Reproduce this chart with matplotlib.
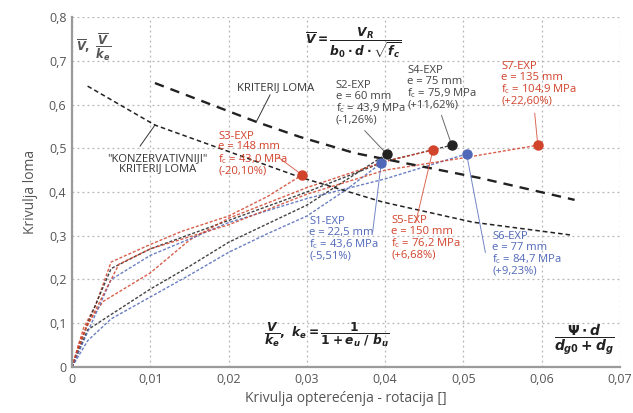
import matplotlib
matplotlib.use('Agg')
import matplotlib.pyplot as plt
import numpy as np
from matplotlib import rc

rc('font', family=['Open Sans', 'DejaVu Sans'])
rc('mathtext', fontset='custom', it='DejaVu Sans:italic:bold', rm='DejaVu Sans:bold', bf='DejaVu Sans:bold')

RED = '#d2432c'
BLUE = '#5068b8'
BLACK = '#222222'
GRAY = '#555555'

# load-rotation curves (rotation, normalised shear)
s1_x = [0, 0.002, 0.005, 0.01, 0.015, 0.02, 0.025, 0.03, 0.035, 0.0395]
s1_y = [0, 0.06, 0.11, 0.16, 0.21, 0.262, 0.305, 0.345, 0.405, 0.466]
s2_x = [0, 0.002, 0.005, 0.01, 0.015, 0.02, 0.03, 0.0402]
s2_y = [0, 0.085, 0.12, 0.178, 0.23, 0.285, 0.37, 0.487]
s3_x = [0, 0.0015, 0.003, 0.005, 0.01, 0.014, 0.02, 0.025, 0.0294]
s3_y = [0, 0.09, 0.14, 0.24, 0.28, 0.31, 0.345, 0.39, 0.439]
s4_x = [0, 0.002, 0.005, 0.01, 0.02, 0.03, 0.04, 0.0485]
s4_y = [0, 0.1, 0.225, 0.27, 0.335, 0.4, 0.47, 0.507]
s5_x = [0, 0.002, 0.004, 0.01, 0.015, 0.02, 0.03, 0.04, 0.0461]
s5_y = [0, 0.1, 0.15, 0.215, 0.29, 0.34, 0.41, 0.47, 0.496]
s6_x = [0, 0.002, 0.005, 0.01, 0.02, 0.03, 0.04, 0.0504]
s6_y = [0, 0.08, 0.2, 0.255, 0.33, 0.385, 0.43, 0.487]
s7_x = [0, 0.001, 0.003, 0.006, 0.01, 0.02, 0.03, 0.04, 0.05, 0.0595]
s7_y = [0, 0.06, 0.13, 0.235, 0.27, 0.325, 0.395, 0.45, 0.478, 0.507]

# failure criteria
krit_x = [0.0106, 0.0236, 0.0291, 0.0361, 0.0521, 0.0642]
krit_y = [0.649, 0.56, 0.526, 0.489, 0.432, 0.382]
konz_x = [0.002, 0.0106, 0.0291, 0.0397, 0.0512, 0.0636]
konz_y = [0.642, 0.553, 0.434, 0.377, 0.331, 0.302]

names = ['S1-EXP', 'S2-EXP', 'S3-EXP', 'S4-EXP', 'S5-EXP', 'S6-EXP', 'S7-EXP']
ecc = ['22,5', '60', '148', '75', '150', '77', '135']
fc = ['43,6', '43,9', '43,0', '75,9', '76,2', '84,7', '104,9']
diff = ['-5,51%', '-1,26%', '-20,10%', '+11,62%', '+6,68%', '+9,23%', '+22,60%']

series = [(s1_x, s1_y, BLUE), (s2_x, s2_y, BLACK), (s3_x, s3_y, RED), (s4_x, s4_y, BLACK),
          (s5_x, s5_y, RED), (s6_x, s6_y, BLUE), (s7_x, s7_y, RED)]
txt_col = [BLUE, '#444444', RED, '#444444', RED, BLUE, RED]
# label position (data coords, top-left) and end of leader line
lab_pos = [(0.0303, 0.345), (0.0337, 0.655), (0.0187, 0.54), (0.0428, 0.69), (0.0408, 0.347), (0.0537, 0.311), (0.0548, 0.699)]
lead_end = [(0.0384, 0.308), (0.0374, 0.54), (0.0263, 0.48), (0.0472, 0.575), (0.0439, 0.33), (0.0528, 0.262), (0.0591, 0.58)]

fig, ax = plt.subplots(figsize=(6.33, 4.13), dpi=100)
fig.subplots_adjust(left=0.1137, right=0.9795, bottom=0.1114, top=0.9588)

for (x, y, c) in series:
    ax.plot(x, y, color=c, lw=1.0, ls=(0, (2.2, 1.3)), alpha=0.85)
for (x, y, c) in series:
    ax.plot(x[-1], y[-1], 'o', color=c, ms=6.5, zorder=5)

ax.plot(krit_x, krit_y, color=BLACK, lw=1.7, ls=(0, (4, 3)))
ax.plot(konz_x, konz_y, color=BLACK, lw=1.1, ls=(0, (3, 2)))

for i in range(len(names)):
    x0, y0 = lab_pos[i]
    s = names[i] + '\ne = ' + ecc[i] + ' mm\nf$_\\mathregular{c}$ = ' + fc[i] + ' MPa\n(' + diff[i] + ')'
    ax.text(x0, y0, s, color=txt_col[i], fontsize=8.1, va='top', ha='left', linespacing=0.95)
    sx, sy = series[i][0][-1], series[i][1][-1]
    ax.plot([sx, lead_end[i][0]], [sy, lead_end[i][1]], color=txt_col[i], lw=0.7, alpha=0.8)

ax.text(0.0260, 0.638, 'KRITERIJ LOMA', fontsize=8.1, color='#333333', ha='center', va='center')
ax.plot([0.0253, 0.0235], [0.622, 0.559], color='#333333', lw=0.7)
ax.text(0.0109, 0.465, '"KONZERVATIVNIJI"\nKRITERIJ LOMA', fontsize=8.1, color='#333333',
        ha='center', va='center', linespacing=0.95)
ax.plot([0.0087, 0.0106], [0.505, 0.553], color='#333333', lw=0.7)

ax.text(0.0359, 0.742, r'$\overline{V}=\dfrac{V_R}{b_0\cdot d\cdot\sqrt{f_c}}$', fontsize=8.8,
        color=BLACK, ha='center', va='center')
ax.text(0.0005, 0.732, r'$\overline{V},\ \dfrac{\overline{V}}{k_e}$', fontsize=8.3, color=GRAY,
        ha='left', va='center')
ax.text(0.0326, 0.075, r'$\dfrac{V}{k_e},\ k_e=\dfrac{1}{1+e_u\ /\ b_u}$', fontsize=8.8,
        color=BLACK, ha='center', va='center')
ax.text(0.0655, 0.062, r'$\dfrac{\Psi\cdot d}{d_{g0}+d_g}$', fontsize=10,
        color=BLACK, ha='center', va='center')

ax.set_xlim(0, 0.07)
ax.set_ylim(0, 0.8)
xt = np.arange(0, 0.071, 0.01)
yt = np.arange(0, 0.81, 0.1)
ax.set_xticks(xt)
ax.set_yticks(yt)
ax.set_xticklabels(['0'] + [('%.2f' % v).replace('.', ',') for v in xt[1:]])
ax.set_yticklabels(['0'] + [('%.1f' % v).replace('.', ',') for v in yt[1:]])
ax.tick_params(colors=GRAY, labelsize=9, length=0, pad=4)
ax.grid(True, color='#b5b5b5', lw=0.9, ls=(0, (1.5, 2.5)))
for s in ['top', 'right']:
    ax.spines[s].set_visible(False)
for s in ['left', 'bottom']:
    ax.spines[s].set_color('#9a9a9a')
    ax.spines[s].set_linewidth(1.6)
ax.set_xlabel('Krivulja opterećenja - rotacija []', fontsize=10, color=GRAY, labelpad=4)
ax.set_ylabel('Krivulja loma', fontsize=10, color=GRAY, labelpad=8)

plt.savefig('out.png', dpi=100)
